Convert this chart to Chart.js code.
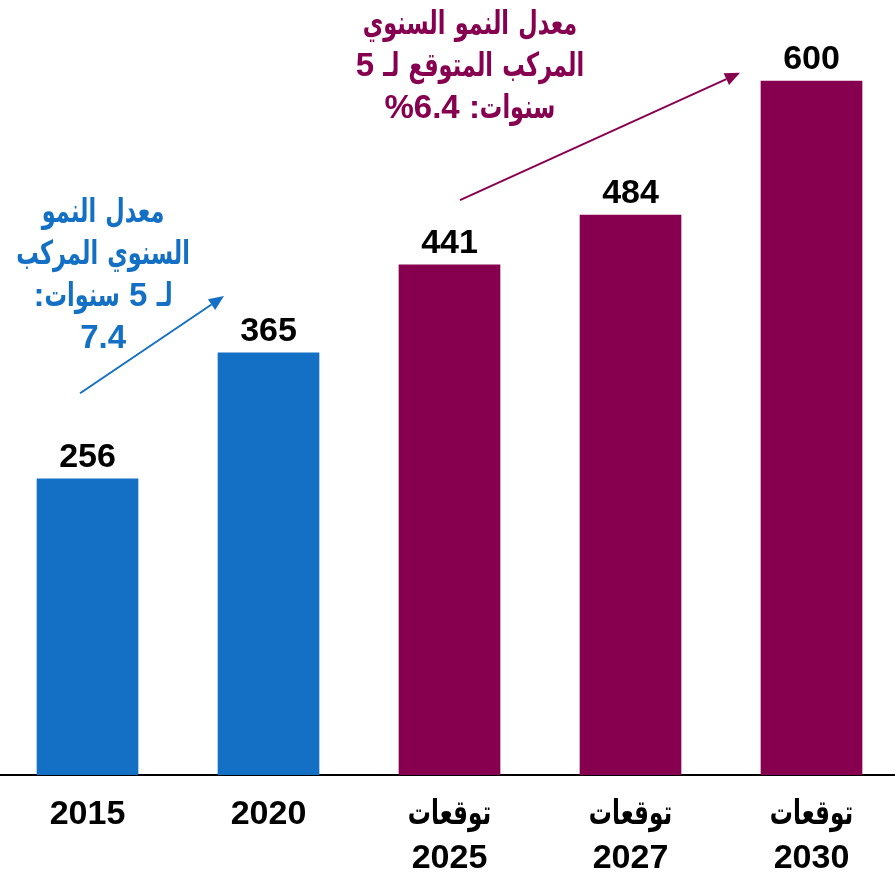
<!DOCTYPE html>
<html lang="ar">
<head>
<meta charset="utf-8">
<script src="https://cdn.jsdelivr.net/npm/chart.js@4.4.1/dist/chart.umd.min.js"></script>
<style>
  html, body { margin: 0; padding: 0; background: #fff; overflow: hidden; }
  #marketChart { position: absolute; left: -3px; top: 0; }
</style>
</head>
<body>
<canvas id="marketChart" width="905" height="873"></canvas>
<script>
const years = ['2015', '2020', '2025', '2027', '2030'];
const isForecast = [false, false, true, true, true];
const marketSize = [256, 365, 441, 484, 600];

const forecastWord = 'توقعات';
const blueGrowthText = ['معدل النمو', 'السنوي المركب', 'لـ 5 سنوات:', '7.4'];
const maroonGrowthText = ['معدل النمو السنوي', 'المركب المتوقع لـ 5', 'سنوات: %6.4'];

const BLUE = '#1470C4';
const MAROON = '#870050';
const FONT = '"Liberation Sans", Arial, "DejaVu Sans", sans-serif';
const ARABIC_SQUEEZE = 0.68;

const xLabels = years.map((y, i) => isForecast[i] ? [forecastWord, y] : [y]);

// growth notes: text block + arrow, placed in scale units (category index, value)
const notes = [
    { color: BLUE, lines: blueGrowthText, at: [0.086, 478], from: [-0.041, 330], to: [0.754, 414] },
    { color: MAROON, lines: maroonGrowthText, at: [2.113, 641], from: [2.058, 497], to: [3.605, 607] }
];

const isArabic = ch => /[\u0600-\u06FF]/.test(ch);

// split a right-to-left line into runs and return them in left-to-right drawing order
function visualRuns(line) {
    const runs = [];
    for (const ch of line) {
        const kind = isArabic(ch) ? 'ar' : /[0-9.%]/.test(ch) ? 'num' : 'n';
        const last = runs[runs.length - 1];
        if (last && last.kind === kind) last.text += ch;
        else runs.push({ kind, text: ch });
    }
    return runs.reverse().map(r => r.kind === 'n' ? { kind: r.kind, text: [...r.text].reverse().join('') } : r);
}

// draws one centred line; Arabic runs get narrowed so they look like the condensed Arabic face
function drawLine(ctx, line, cx, y) {
    const runs = visualRuns(line);
    const widths = runs.map(r => ctx.measureText(r.text).width * (r.kind === 'ar' ? ARABIC_SQUEEZE : 1));
    let x = cx - widths.reduce((a, b) => a + b, 0) / 2;
    runs.forEach((r, i) => {
        ctx.save();
        ctx.translate(x, y);
        if (r.kind === 'ar') ctx.scale(ARABIC_SQUEEZE, 1);
        ctx.textAlign = 'left';
        ctx.fillText(r.text, 0, 0);
        ctx.restore();
        x += widths[i];
    });
}

function drawArrow(ctx, x1, y1, x2, y2, color) {
    const ang = Math.atan2(y2 - y1, x2 - x1);
    const len = 15, half = 6.5;
    const bx = x2 - len * Math.cos(ang), by = y2 - len * Math.sin(ang);
    ctx.save();
    ctx.strokeStyle = color;
    ctx.fillStyle = color;
    ctx.lineWidth = 2;
    ctx.beginPath();
    ctx.moveTo(x1, y1);
    ctx.lineTo(bx, by);
    ctx.stroke();
    ctx.beginPath();
    ctx.moveTo(x2, y2);
    ctx.lineTo(bx + half * Math.sin(ang), by - half * Math.cos(ang));
    ctx.lineTo(bx - half * Math.sin(ang), by + half * Math.cos(ang));
    ctx.closePath();
    ctx.fill();
    ctx.restore();
}

const labelsAndNotes = {
    id: 'labelsAndNotes',
    afterDatasetsDraw(chart) {
        const ctx = chart.ctx;
        const xs = chart.scales.x, ys = chart.scales.y;

        // value labels above each bar
        ctx.save();
        ctx.font = 'bold 34px ' + FONT;
        ctx.fillStyle = '#000';
        ctx.textAlign = 'center';
        ctx.textBaseline = 'alphabetic';
        chart.getDatasetMeta(0).data.forEach((bar, i) => {
            ctx.fillText(String(marketSize[i]), bar.x, bar.y - 12);
        });
        ctx.restore();

        // category labels under the axis
        ctx.save();
        ctx.font = 'bold 34px ' + FONT;
        ctx.fillStyle = '#000';
        ctx.textBaseline = 'middle';
        xLabels.forEach((lines, i) => {
            const cx = xs.getPixelForValue(i);
            lines.forEach((line, k) => drawLine(ctx, line, cx, xs.top + 40 + k * 44));
        });
        ctx.restore();

        notes.forEach(n => {
            ctx.save();
            ctx.font = 'bold 33px ' + FONT;
            ctx.fillStyle = n.color;
            ctx.textBaseline = 'alphabetic';
            const tx = xs.getPixelForValue(n.at[0]);
            const ty = ys.getPixelForValue(n.at[1]);
            n.lines.forEach((line, k) => drawLine(ctx, line, tx, ty + k * 42));
            ctx.restore();
            drawArrow(ctx,
                xs.getPixelForValue(n.from[0]), ys.getPixelForValue(n.from[1]),
                xs.getPixelForValue(n.to[0]), ys.getPixelForValue(n.to[1]), n.color);
        });
    }
};

new Chart(document.getElementById('marketChart'), {
    type: 'bar',
    data: {
        labels: xLabels,
        datasets: [{
            data: marketSize,
            backgroundColor: isForecast.map(f => f ? MAROON : BLUE),
            barThickness: 101
        }]
    },
    options: {
        responsive: false,
        animation: false,
        layout: { padding: 0 },
        plugins: { legend: { display: false }, tooltip: { enabled: false } },
        scales: {
            x: {
                grid: { display: false },
                border: { display: true, color: '#000', width: 2 },
                ticks: { display: false },
                afterFit(scale) { scale.height = 98; }
            },
            y: { display: false, min: 0, max: 670 }
        }
    },
    plugins: [labelsAndNotes]
});
</script>
</body>
</html>
